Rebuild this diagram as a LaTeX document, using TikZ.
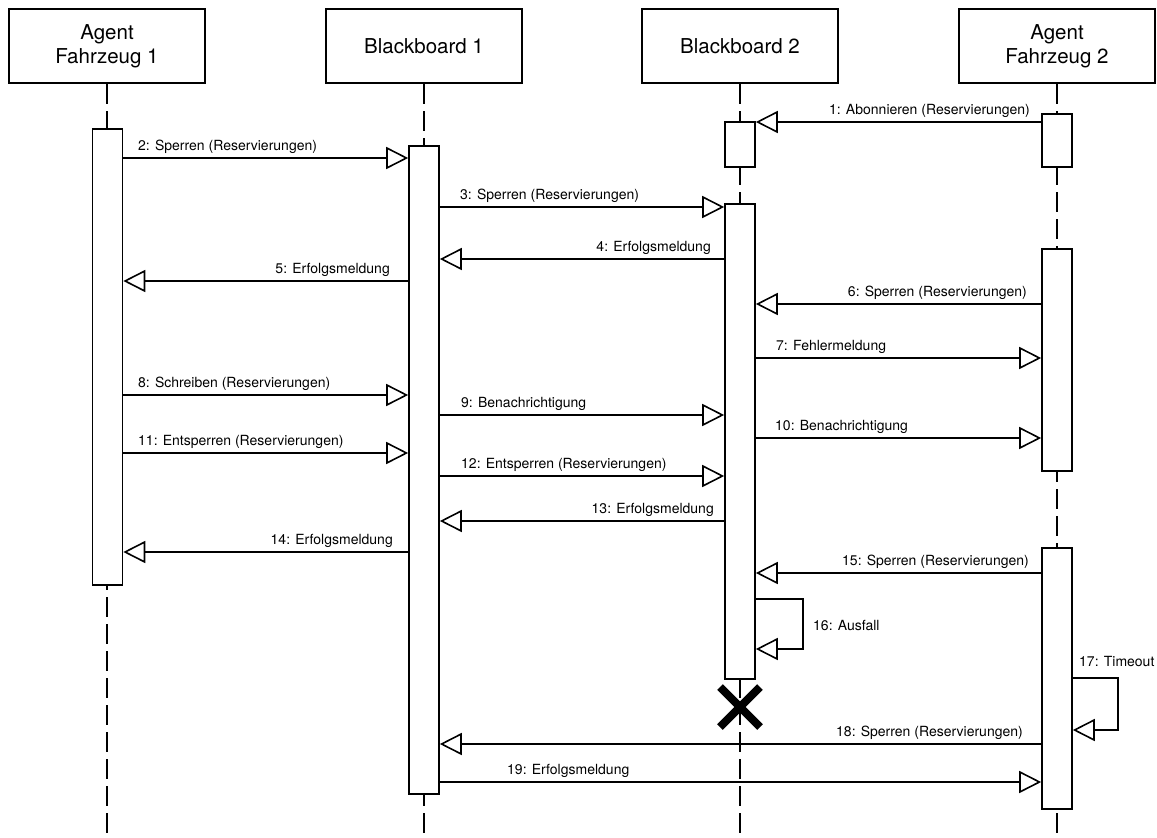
\documentclass[tikz,border=0pt]{standalone}
\usepackage{fontspec}
\setmainfont{TeX Gyre Heros}
\usepackage{tikz}
\usetikzlibrary{arrows.meta}

\begin{document}
\begin{tikzpicture}[
                x=1pt, y=-1pt,
                head/.style={draw, line width=2.7pt, rectangle, minimum width=196pt, minimum height=74pt, align=center, font=\fontsize{20.5}{24}\selectfont},
                bar/.style={draw, line width=1.6pt, fill=white, rectangle, minimum width=30pt, inner sep=0pt, anchor=north},
                life/.style={draw, line width=1.6pt, dash pattern=on 20pt off 7pt},
                msg/.style={draw, line width=1.6pt, -{Triangle[fill=white, length=22pt, width=22pt]}},
                lbl/.style={inner sep=0pt, font=\fontsize{14}{16}\selectfont}
            ]
            \useasboundingbox (0,0) rectangle (1157,838);

            % Lifeline heads
            \node[head] (agent1) at (107,46) {Agent\\Fahrzeug 1};
            \node[head] (bb1) at (424,46) {Blackboard 1};
            \node[head] (bb2) at (740,46) {Blackboard 2};
            \node[head] (agent2) at (1057,46) {Agent\\Fahrzeug 2};

            % Dashed lifelines
            \draw[life] (agent1.south) -- (agent1.south |- 0,833);
            \draw[life] (bb1.south) -- (bb1.south |- 0,833);
            \draw[life] (bb2.south) -- (bb2.south |- 0,833);
            \draw[life] (agent2.south) -- (agent2.south |- 0,838);

            % Activation bars
            \node[bar, minimum height=456pt] (a1bar) at (107.5,128) {};
            \node[bar, minimum height=648pt] (bb1bar) at (424,145) {};
            \node[bar, minimum height=45pt] (bb2top) at (740,121) {};
            \node[bar, minimum height=475pt] (bb2bar) at (740,203) {};
            \node[bar, minimum height=53pt] (a2top) at (1057,113) {};
            \node[bar, minimum height=222pt] (a2mid) at (1057,248) {};
            \node[bar, minimum height=261pt] (a2bot) at (1057,547) {};

            % Messages
            \draw[msg] (a2top.west |- 0,122) -- (bb2top.east |- 0,122);
            \draw[msg] (a1bar.east |- 0,158) -- (bb1bar.west |- 0,158);
            \draw[msg] (bb1bar.east |- 0,207) -- (bb2bar.west |- 0,207);
            \draw[msg] (bb2bar.west |- 0,259) -- (bb1bar.east |- 0,259);
            \draw[msg] (bb1bar.west |- 0,281) -- (a1bar.east |- 0,281);
            \draw[msg] (a2mid.west |- 0,304) -- (bb2bar.east |- 0,304);
            \draw[msg] (bb2bar.east |- 0,358) -- (a2mid.west |- 0,358);
            \draw[msg] (a1bar.east |- 0,395) -- (bb1bar.west |- 0,395);
            \draw[msg] (bb1bar.east |- 0,415) -- (bb2bar.west |- 0,415);
            \draw[msg] (bb2bar.east |- 0,438) -- (a2mid.west |- 0,438);
            \draw[msg] (a1bar.east |- 0,453) -- (bb1bar.west |- 0,453);
            \draw[msg] (bb1bar.east |- 0,476) -- (bb2bar.west |- 0,476);
            \draw[msg] (bb2bar.west |- 0,521) -- (bb1bar.east |- 0,521);
            \draw[msg] (bb1bar.west |- 0,552) -- (a1bar.east |- 0,552);
            \draw[msg] (a2bot.west |- 0,573) -- (bb2bar.east |- 0,573);
            \draw[msg] (bb2bar.east |- 0,599) -- ++(47,0) |- (bb2bar.east |- 0,649);
            \draw[msg] (a2bot.east |- 0,678) -- ++(45,0) |- (a2bot.east |- 0,730);
            \draw[msg] (a2bot.west |- 0,744) -- (bb1bar.east |- 0,744);
            \draw[msg] (bb1bar.east |- 0,782) -- (a2bot.west |- 0,782);

            % Destruction of Blackboard 2
            \coordinate (bb2end) at (740,707);
            \draw[line width=8pt] (bb2end) +(-20,-20) -- +(20,20);
            \draw[line width=8pt] (bb2end) +(-20,20) -- +(20,-20);

            % Message labels
            \node[lbl, anchor=base east] (l1) at (1030,114) {1: Abonnieren (Reservierungen)};
            \node[lbl, anchor=base west] (l2) at (138,150) {2: Sperren (Reservierungen)};
            \node[lbl, anchor=base west] (l3) at (460,199) {3: Sperren (Reservierungen)};
            \node[lbl, anchor=base east] (l4) at (711,251) {4: Erfolgsmeldung};
            \node[lbl, anchor=base east] (l5) at (390,273) {5: Erfolgsmeldung};
            \node[lbl, anchor=base east] (l6) at (1027,296) {6: Sperren (Reservierungen)};
            \node[lbl, anchor=base west] (l7) at (776,350) {7: Fehlermeldung};
            \node[lbl, anchor=base west] (l8) at (138,387) {8: Schreiben (Reservierungen)};
            \node[lbl, anchor=base west] (l9) at (461,407) {9: Benachrichtigung};
            \node[lbl, anchor=base west] (l10) at (775,430) {10: Benachrichtigung};
            \node[lbl, anchor=base west] (l11) at (138,445) {11: Entsperren (Reservierungen)};
            \node[lbl, anchor=base west] (l12) at (461,468) {12: Entsperren (Reservierungen)};
            \node[lbl, anchor=base east] (l13) at (714,513) {13: Erfolgsmeldung};
            \node[lbl, anchor=base east] (l14) at (393,544) {14: Erfolgsmeldung};
            \node[lbl, anchor=base east] (l15) at (1029,565) {15: Sperren (Reservierungen)};
            \node[lbl, anchor=base west] (l16) at (813,630) {16: Ausfall};
            \node[lbl, anchor=base west] (l17) at (1079,666) {17: Timeout};
            \node[lbl, anchor=base east] (l18) at (1023,736) {18: Sperren (Reservierungen)};
            \node[lbl, anchor=base west] (l19) at (507,774) {19: Erfolgsmeldung};
        \end{tikzpicture}
\end{document}
